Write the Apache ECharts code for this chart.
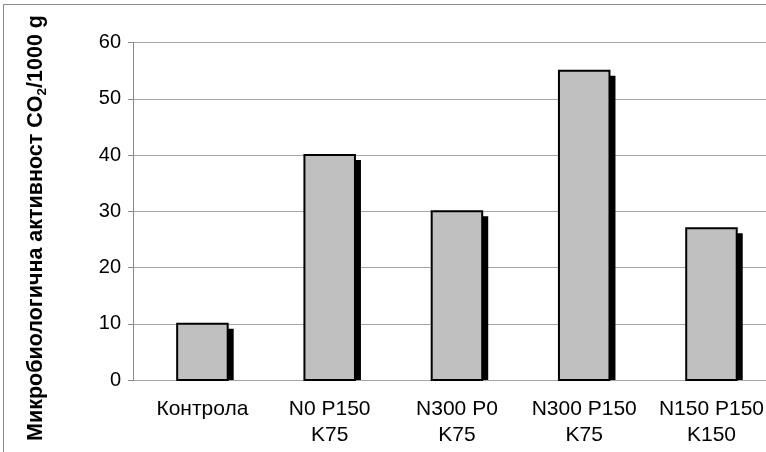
<!DOCTYPE html>
<html>
<head>
<meta charset="utf-8">
<script src="https://cdn.jsdelivr.net/npm/echarts@6/dist/echarts.min.js"></script>
<style>
  html, body { margin: 0; padding: 0; background: #fff; overflow: hidden; }
  /* the chart frame runs past the right edge of the window */
  #chart { width: 790px; height: 452px; }
</style>
</head>
<body>
<div id="chart"></div>
<script>
// Treatments and measured microbiological activity
const categories = ['Контрола', 'N0 P150\nK75', 'N300 P0\nK75', 'N300 P150\nK75', 'N150 P150\nK150'];
const activity = [10, 40, 30, 55, 27];
const yMin = 0;
const yMax = 60;
const yStep = 10;

const FONT = '"Liberation Sans", Arial, sans-serif';
const chart = echarts.init(document.getElementById('chart'), null, { renderer: 'canvas' });

// Bar with a hard drop shadow that stops at the baseline
function renderBar(params, api) {
  const top = api.coord([api.value(0), api.value(1)]);
  const base = api.coord([api.value(0), 0]);
  const band = api.size([1, 0])[0];
  const w = band * 0.397;
  const x = top[0] - w / 2;
  const h = base[1] - top[1];
  const dx = 6, dy = 5;
  return {
    type: 'group',
    children: [
      { type: 'rect', shape: { x: x + dx, y: top[1] + dy, width: w, height: Math.max(0, h - dy) },
        style: { fill: '#000' } },
      { type: 'rect', shape: { x: x, y: top[1], width: w, height: h },
        style: { fill: '#c0c0c0', stroke: '#000', lineWidth: 2 } }
    ]
  };
}

const plotTop = 42.5;
const plotHeight = 337.5;

chart.setOption({
  animation: false,
  backgroundColor: '#fff',
  textStyle: { fontFamily: FONT },
  graphic: [
    { type: 'rect', z: -10, silent: true,
      shape: { x: 3.5, y: 4.5, width: 900, height: 900 },
      style: { fill: 'none', stroke: '#888', lineWidth: 1 } },
    { type: 'text', x: 37, y: 228, rotation: Math.PI / 2,
      style: {
        text: '{a|Микробиологична активност CO}{s|2}{a|/1000 g}',
        textAlign: 'center', textVerticalAlign: 'middle',
        fill: '#000', fontFamily: FONT,
        rich: {
          a: { fontSize: 21.5, fontWeight: 'bold', fontFamily: FONT, lineHeight: 24, verticalAlign: 'top', fill: '#000' },
          s: { fontSize: 13.5, fontWeight: 'bold', fontFamily: FONT, lineHeight: 11, verticalAlign: 'bottom', fill: '#000' }
        }
      } }
  ],
  grid: [
    { left: 133, top: plotTop, width: 642, height: plotHeight },
    { left: 138.8, top: plotTop, width: 636.3, height: plotHeight }
  ],
  xAxis: [
    { gridIndex: 0, type: 'value', min: 0, max: 1, show: false },
    { gridIndex: 1, type: 'category', data: categories,
      axisLine: { show: false }, axisTick: { show: false },
      axisLabel: { color: '#000', fontSize: 21, lineHeight: 26, margin: 16, fontFamily: FONT, interval: 0 } }
  ],
  yAxis: [
    { gridIndex: 0, type: 'value', min: yMin, max: yMax, interval: yStep,
      axisLine: { show: true, lineStyle: { color: '#888', width: 1 } },
      axisTick: { show: true, length: 5, lineStyle: { color: '#888' } },
      splitLine: { show: true, lineStyle: { color: '#a6a6a6', width: 1 } },
      axisLabel: { color: '#000', fontSize: 20, margin: 12, fontFamily: FONT } },
    { gridIndex: 1, type: 'value', min: yMin, max: yMax, interval: yStep, show: false,
      splitLine: { show: false } }
  ],
  series: [
    { type: 'custom', xAxisIndex: 1, yAxisIndex: 1, renderItem: renderBar,
      data: activity.map((v, i) => [i, v]), clip: false }
  ]
});
</script>
</body>
</html>
